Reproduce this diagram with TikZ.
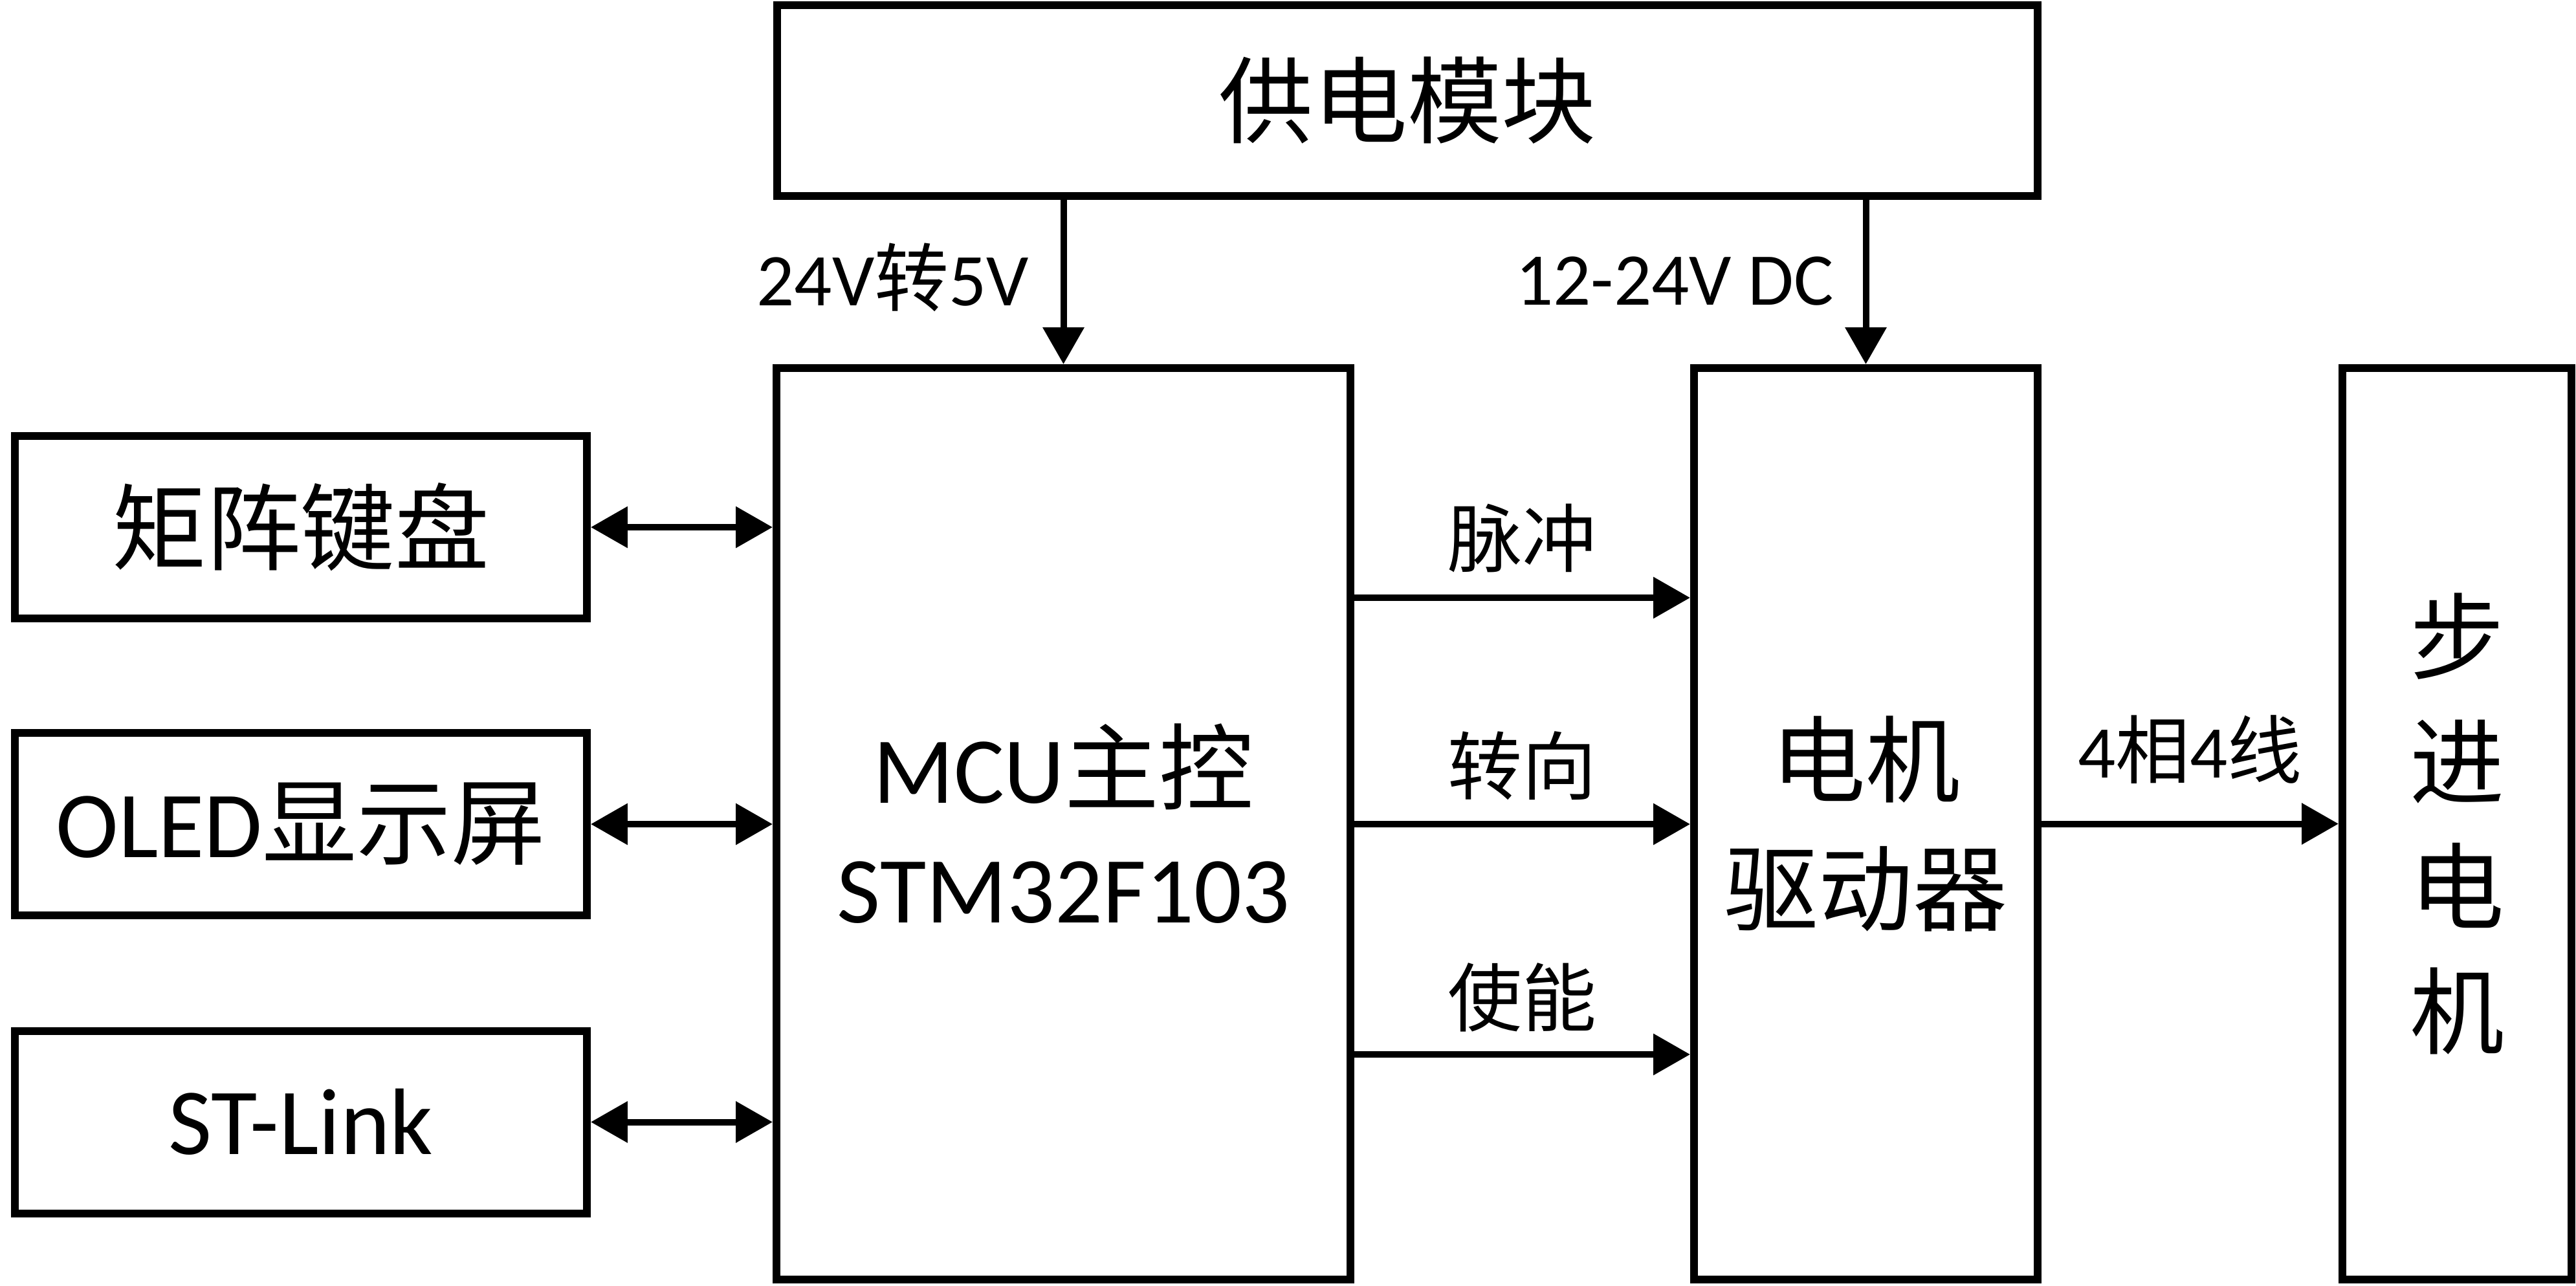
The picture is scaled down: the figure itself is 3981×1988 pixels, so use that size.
\documentclass[tikz,border=0pt]{standalone}
\usepackage{fontspec}
\setmainfont{Carlito}
\newfontfamily\cjk{Noto Sans CJK SC}
\usetikzlibrary{arrows.meta}
\begin{document}
\begin{tikzpicture}[x=0.1pt,y=-0.1pt,
  box/.style={draw, line width=1.2pt, inner sep=0pt, align=center,
              font=\fontsize{14.6}{18.5}\selectfont},
  arr/.style={line width=1pt, -{Triangle[length=5.7pt,width=6.2pt]}},
  biarr/.style={line width=1pt, {Triangle[length=5.7pt,width=6.2pt]}-{Triangle[length=5.7pt,width=6.2pt]}},
  lbl/.style={inner sep=0pt, font=\fontsize{11.5}{13}\selectfont}]
\useasboundingbox (0,0) rectangle (3981,1988);
% boxes
\node[box, minimum width=194.8pt, minimum height=29.5pt] (pwr) at (2175,155.5) {{\cjk 供电模块}};
\node[box, minimum width=88.7pt, minimum height=140.9pt] (mcu) at (1643.5,1273.5) {MCU{\cjk 主控}\\STM32F103};
\node[box, minimum width=53.1pt, minimum height=140.9pt, font=\fontsize{14.6}{20}\selectfont] (drv) at (2883.5,1273.5) {{\cjk 电机}\\{\cjk 驱动器}};
\node[box, minimum width=35.4pt, minimum height=140.9pt, font=\fontsize{14.6}{19.3}\selectfont] (stp) at (3797,1273.5) {{\cjk 步}\\{\cjk 进}\\{\cjk 电}\\{\cjk 机}};
\node[box, minimum width=88.4pt, minimum height=28.2pt] (kb) at (465,815) {{\cjk 矩阵键盘}};
\node[box, minimum width=88.4pt, minimum height=28.2pt] (oled) at (465,1274) {OLED{\cjk 显示屏}};
\node[box, minimum width=88.4pt, minimum height=28.2pt] (stl) at (465,1734.5) {ST-Link};
% helper rows
\coordinate (ypul) at (0,924);
\coordinate (ydir) at (0,1274);
\coordinate (yen) at (0,1630);
% power arrows
\draw[arr] (pwr.south -| mcu.north) -- (mcu.north);
\draw[arr] (pwr.south -| drv.north) -- (drv.north);
% bidirectional links
\draw[biarr] (kb.east) -- (kb.east -| mcu.west);
\draw[biarr] (oled.east) -- (oled.east -| mcu.west);
\draw[biarr] (stl.east) -- (stl.east -| mcu.west);
% control signals
\draw[arr] (mcu.east |- ypul) -- (drv.west |- ypul);
\draw[arr] (mcu.east |- ydir) -- (drv.west |- ydir);
\draw[arr] (mcu.east |- yen) -- (drv.west |- yen);
% motor phases
\draw[arr] (drv.east) -- (stp.west);
% labels
\node[lbl, anchor=base east] (l5v) at (1592,472) {24V{\cjk 转}5V};
\node[lbl, anchor=base east] (l12) at (2836,471) {12-24V DC};
\node[lbl, anchor=base] (lpul) at (2352.5,875) {{\cjk 脉冲}};
\node[lbl, anchor=base] (ldir) at (2352.5,1227) {{\cjk 转向}};
\node[lbl, anchor=base] (len) at (2352.5,1585) {{\cjk 使能}};
\node[lbl, anchor=base] (l44) at (3384.5,1202) {4{\cjk 相}4{\cjk 线}};
\end{tikzpicture}
\end{document}
